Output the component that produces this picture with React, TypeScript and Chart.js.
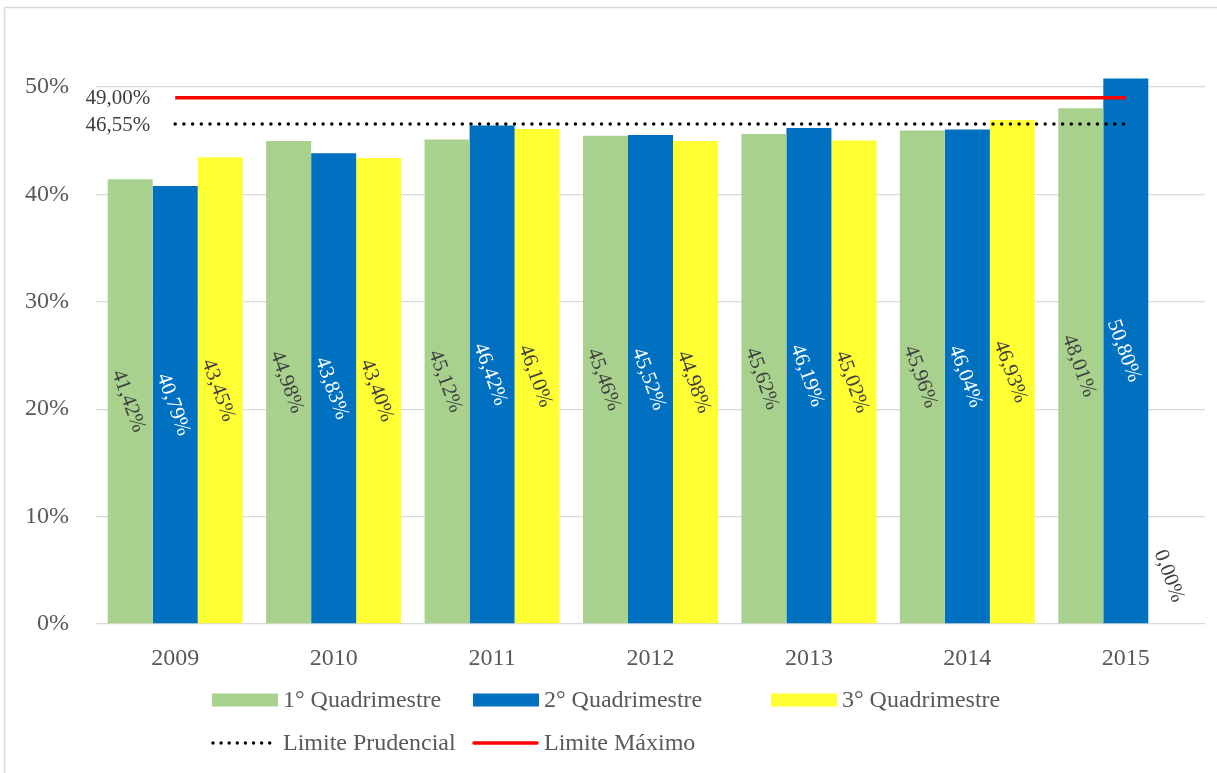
import React, { useEffect, useRef } from "react";
import { Chart, registerables } from "chart.js";

Chart.register(...registerables);

const categories = ["2009", "2010", "2011", "2012", "2013", "2014", "2015"];
const q1Values = [41.42, 44.98, 45.12, 45.46, 45.62, 45.96, 48.01];
const q2Values = [40.79, 43.83, 46.42, 45.52, 46.19, 46.04, 50.8];
const q3Values = [43.45, 43.4, 46.1, 44.98, 45.02, 46.93, 0];
const prudencialValues = [46.55, 46.55, 46.55, 46.55, 46.55, 46.55, 46.55];
const maximoValues = [49, 49, 49, 49, 49, 49, 49];
const yTicks = [0, 10, 20, 30, 40, 50];

const seriesNames = ["1° Quadrimestre", "2° Quadrimestre", "3° Quadrimestre", "Limite Prudencial", "Limite Máximo"];
const GREEN = "#A9D18E";
const BLUE = "#0070C0";
const YELLOW = "#FFFF33";
const TEXT = "#595959";
const LABEL_DARK = "#404040";
const SERIF = "'Liberation Serif', 'Times New Roman', serif";

const fmt = (v: number) => v.toFixed(2).replace(".", ",") + "%";

const bgPlugin = {
  id: "bgBorder",
  beforeDraw(chart: any) {
    const { ctx } = chart;
    ctx.save();
    ctx.fillStyle = "#ffffff";
    ctx.fillRect(0, 0, chart.width, chart.height);
    ctx.strokeStyle = "#d9d9d9";
    ctx.lineWidth = 1.5;
    ctx.strokeRect(4.5, 7.5, chart.width + 50, chart.height + 50);
    ctx.restore();
  },
};

const labelPlugin = {
  id: "valueLabels",
  afterDatasetsDraw(chart: any) {
    const { ctx } = chart;
    ctx.save();
    ctx.font = `21px ${SERIF}`;
    const labelColors = [LABEL_DARK, "#ffffff", LABEL_DARK];
    for (let d = 0; d < 3; d++) {
      const meta = chart.getDatasetMeta(d);
      const data = chart.data.datasets[d].data as number[];
      meta.data.forEach((el: any, i: number) => {
        const v = data[i];
        const cy = v === 0 ? el.base - 48 : (el.y + el.base) / 2;
        ctx.save();
        ctx.translate(el.x - 2, cy);
        ctx.rotate((70 * Math.PI) / 180);
        ctx.fillStyle = v === 0 ? LABEL_DARK : labelColors[d];
        ctx.textAlign = "center";
        ctx.textBaseline = "middle";
        ctx.fillText(fmt(v), 0, 0);
        ctx.restore();
      });
    }
    for (let d = 3; d < 5; d++) {
      const meta = chart.getDatasetMeta(d);
      const data = chart.data.datasets[d].data as number[];
      const p = meta.data[0];
      ctx.fillStyle = LABEL_DARK;
      ctx.textAlign = "right";
      ctx.textBaseline = "middle";
      ctx.fillText(fmt(data[0]), p.x - 25, p.y + 1);
    }
    ctx.restore();
  },
};

const legendPlugin = {
  id: "customLegend",
  afterDraw(chart: any) {
    const { ctx } = chart;
    ctx.save();
    ctx.font = `24px ${SERIF}`;
    ctx.textBaseline = "middle";
    ctx.textAlign = "left";
    const cols = [212, 473, 771];
    const rows = [700, 743];
    const items = [
      { kind: "box", color: GREEN, name: seriesNames[0], col: 0, row: 0 },
      { kind: "box", color: BLUE, name: seriesNames[1], col: 1, row: 0 },
      { kind: "box", color: YELLOW, name: seriesNames[2], col: 2, row: 0 },
      { kind: "dots", color: "#000000", name: seriesNames[3], col: 0, row: 1 },
      { kind: "line", color: "#FF0000", name: seriesNames[4], col: 1, row: 1 },
    ];
    items.forEach((it) => {
      const x = cols[it.col];
      const y = rows[it.row];
      if (it.kind === "box") {
        ctx.fillStyle = it.color;
        ctx.fillRect(x, y - 6.5, 66, 13);
      } else if (it.kind === "line") {
        ctx.strokeStyle = it.color;
        ctx.lineWidth = 3.5;
        ctx.lineCap = "round";
        ctx.beginPath();
        ctx.moveTo(x + 1, y);
        ctx.lineTo(x + 64, y);
        ctx.stroke();
      } else {
        ctx.fillStyle = it.color;
        for (let k = 0; k < 8; k++) {
          ctx.beginPath();
          ctx.arc(x + 1 + k * 8.1, y, 1.7, 0, Math.PI * 2);
          ctx.fill();
        }
      }
      ctx.fillStyle = TEXT;
      ctx.fillText(it.name, x + 71, y + 1);
    });
    ctx.restore();
  },
};

export default function App() {
  const ref = useRef<HTMLCanvasElement | null>(null);

  useEffect(() => {
    if (!ref.current) return;
    const chart = new Chart(ref.current, {
      type: "bar",
      data: {
        labels: categories,
        datasets: [
          { type: "bar", label: seriesNames[0], data: q1Values, backgroundColor: GREEN, order: 1, clip: false } as any,
          { type: "bar", label: seriesNames[1], data: q2Values, backgroundColor: BLUE, order: 1, clip: false } as any,
          { type: "bar", label: seriesNames[2], data: q3Values, backgroundColor: YELLOW, order: 1, clip: false } as any,
          {
            type: "line",
            label: seriesNames[3],
            data: prudencialValues,
            borderColor: "#000000",
            borderWidth: 3.5,
            borderDash: [0, 8.7],
            borderCapStyle: "round",
            pointRadius: 0,
            fill: false,
            order: 0,
          } as any,
          {
            type: "line",
            label: seriesNames[4],
            data: maximoValues,
            borderColor: "#FF0000",
            borderWidth: 3.5,
            pointRadius: 0,
            fill: false,
            order: 0,
          } as any,
        ],
      },
      options: {
        responsive: false,
        animation: false,
        datasets: { bar: { categoryPercentage: 0.852, barPercentage: 1 } },
        layout: { padding: { left: 24, top: 87, right: 12, bottom: 89 } },
        plugins: { legend: { display: false }, tooltip: { enabled: false } },
        scales: {
          x: {
            grid: { display: false },
            border: { display: false },
            ticks: { color: TEXT, font: { family: SERIF, size: 24 }, padding: 12 },
            afterFit: (s: any) => {
              s.height = 60;
            },
          },
          y: {
            min: 0,
            max: 50,
            afterBuildTicks: (s: any) => {
              s.ticks = yTicks.map((v) => ({ value: v }));
            },
            ticks: {
              color: TEXT,
              font: { family: SERIF, size: 24 },
              padding: 27,
              callback: (v: any) => v + "%",
            },
            grid: { color: "#d9d9d9", drawTicks: false, lineWidth: 1.3 },
            border: { display: false },
            afterFit: (s: any) => {
              s.width = 72;
            },
          },
        },
      } as any,
      plugins: [bgPlugin, labelPlugin, legendPlugin],
    });
    return () => chart.destroy();
  }, []);

  return (
    <div style={{ position: "absolute", left: 0, top: 0, width: 1217, height: 773, overflow: "hidden" }}>
      <canvas ref={ref} width={1217} height={773} style={{ display: "block" }} />
    </div>
  );
}
